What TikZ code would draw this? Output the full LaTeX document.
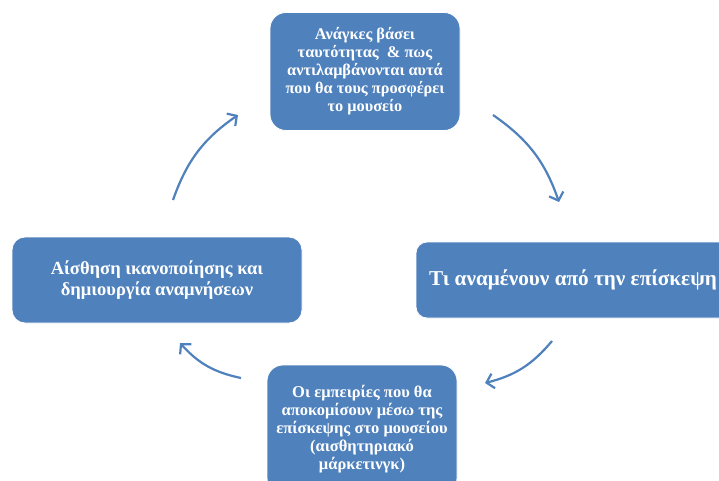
\documentclass[tikz,border=0pt]{standalone}
\usepackage{fontspec}
\setmainfont{Liberation Serif}
\usetikzlibrary{arrows.meta}
\definecolor{boxblue}{HTML}{4F81BD}
\tikzset{
  cyclebox/.style={fill=boxblue, draw=white, line width=0.8pt, text=white,
    font=\bfseries, align=center, inner sep=0pt},
  cyclearrow/.style={draw=boxblue, line width=2.2pt,
    -{Straight Barb[length=7pt,width=15pt,line width=2.2pt]}, bend left=18}
}
\begin{document}
\begin{tikzpicture}[x=1pt,y=-1pt]
  \clip (0,0) rectangle (719,481);
  \fill[white] (0,0) rectangle (719,481);

  % four stages of the visitor cycle
  \node[cyclebox, rounded corners=16pt, minimum width=190pt, minimum height=118pt,
        font=\fontsize{16.3}{18}\selectfont\bfseries] (needs) at (365,71.5)
    {Ανάγκες βάσει\\ταυτότητας \ \& πως\\αντιλαμβάνονται αυτά\\που θα τους προσφέρει\\το μουσείο};
  \node[cyclebox, rounded corners=11pt, minimum width=314pt, minimum height=76pt,
        font=\fontsize{21.2}{24}\selectfont\bfseries] (expect) at (573,280)
    {Τι αναμένουν από την επίσκεψη};
  \node[cyclebox, rounded corners=16pt, minimum width=190pt, minimum height=129pt,
        font=\fontsize{16.5}{18}\selectfont\bfseries] (exper) at (362,429.5)
    {Οι εμπειρίες που θα\\αποκομίσουν μέσω της\\επίσκεψης στο μουσείου\\(αισθητηριακό\\μάρκετινγκ)};
  \node[cyclebox, rounded corners=13pt, minimum width=290pt, minimum height=86pt,
        font=\fontsize{18.5}{20.5}\selectfont\bfseries] (satis) at (157,280)
    {Αίσθηση ικανοποίησης και\\δημιουργία αναμνήσεων};

  % arrow end points between the stages
  \coordinate (a1s) at (173,200);  \coordinate (a1e) at (238,115);
  \coordinate (a2s) at (493,115);  \coordinate (a2e) at (559,202);
  \coordinate (a3s) at (552,341);  \coordinate (a3e) at (485,383);
  \coordinate (a4s) at (241,378);  \coordinate (a4e) at (180,343);

  \draw[cyclearrow] (a1s) to (a1e);
  \draw[cyclearrow] (a2s) to (a2e);
  \draw[cyclearrow] (a3s) to (a3e);
  \draw[cyclearrow] (a4s) to (a4e);
\end{tikzpicture}
\end{document}
